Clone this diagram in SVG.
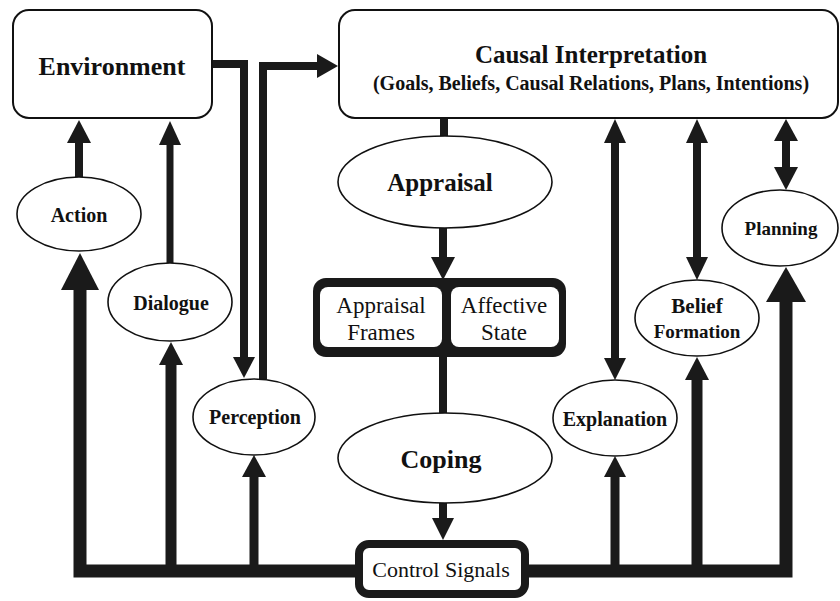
<svg xmlns="http://www.w3.org/2000/svg" width="840" height="601" viewBox="0 0 840 601">
<style>
.box{fill:#fff;stroke:#111;stroke-width:2}
.ell{fill:#fff;stroke:#111;stroke-width:1.6}
.t{font-weight:bold;fill:#111;text-anchor:middle}
.r{font-weight:normal;fill:#111;text-anchor:middle}
.ln{fill:none;stroke:#1a1a1a;stroke-linejoin:miter;stroke-linecap:butt}
.hd{fill:#1a1a1a}
</style>
<rect width="840" height="601" fill="#fff"/>
<g id="connectors">
  <path class="ln" stroke-width="8" d="M212,64 H244 V358"/>
  <polygon class="hd" points="244,378 233,357 255,357"/>
  <path class="ln" stroke-width="8" d="M263,379 V66 H318"/>
  <polygon class="hd" points="338,66 317,54 317,78"/>
  <path class="ln" stroke-width="8" d="M79,177 V142"/>
  <polygon class="hd" points="79,120 67,143 91,143"/>
  <path class="ln" stroke-width="7" d="M170,263 V144"/>
  <polygon class="hd" points="170,121 159,145 181,145"/>
  <path class="ln" stroke-width="8" d="M444,117 V137"/>
  <path class="ln" stroke-width="8" d="M443,228 V258"/>
  <polygon class="hd" points="443,280 431,257 455,257"/>
  <path class="ln" stroke-width="8" d="M443,357 V414"/>
  <path class="ln" stroke-width="8" d="M443,503 V520"/>
  <polygon class="hd" points="443,540 432,518 454,518"/>
  <path class="ln" stroke-width="13" d="M356,571 H80 V289"/>
  <polygon class="hd" points="80,253 61,290 99,290"/>
  <path class="ln" stroke-width="11" d="M171,571 V364"/>
  <polygon class="hd" points="171,342 159,365 183,365"/>
  <path class="ln" stroke-width="9" d="M254,571 V476"/>
  <polygon class="hd" points="254,455 242,477 266,477"/>
  <path class="ln" stroke-width="13" d="M528,571 H786 V301"/>
  <polygon class="hd" points="786,267 766,302 806,302"/>
  <path class="ln" stroke-width="9" d="M615,571 V476"/>
  <polygon class="hd" points="615,456 604,477 626,477"/>
  <path class="ln" stroke-width="11" d="M697,571 V379"/>
  <polygon class="hd" points="697,357 685,380 709,380"/>
  <path class="ln" stroke-width="8" d="M615,142 V359"/>
  <polygon class="hd" points="615,119 604,143 626,143"/>
  <polygon class="hd" points="615,380 604,358 626,358"/>
  <path class="ln" stroke-width="8" d="M697,142 V258"/>
  <polygon class="hd" points="697,119 686,143 708,143"/>
  <polygon class="hd" points="697,280 686,257 708,257"/>
  <path class="ln" stroke-width="8" d="M786,140 V168"/>
  <polygon class="hd" points="786,119 774,141 798,141"/>
  <polygon class="hd" points="786,190 774,167 798,167"/>
</g>
<g font-family="Liberation Serif, Times New Roman, serif">
<g id="environment">
  <rect class="box" x="13" y="10" width="199" height="108" rx="16"/>
  <text class="t" x="112" y="75" font-size="26">Environment</text>
</g>
<g id="causal-interpretation">
  <rect class="box" x="339" y="10" width="499" height="108" rx="16"/>
  <text class="t" x="591" y="63" font-size="25">Causal Interpretation</text>
  <text class="t" x="591" y="90" font-size="20">(Goals, Beliefs, Causal Relations, Plans, Intentions)</text>
</g>
<g id="action">
  <ellipse class="ell" cx="79" cy="214" rx="62" ry="37"/>
  <text class="t" x="79" y="222" font-size="20">Action</text>
</g>
<g id="dialogue">
  <ellipse class="ell" cx="170" cy="302" rx="62" ry="39"/>
  <text class="t" x="171" y="310" font-size="20">Dialogue</text>
</g>
<g id="perception">
  <ellipse class="ell" cx="254" cy="417" rx="61" ry="38"/>
  <text class="t" x="255" y="424" font-size="20">Perception</text>
</g>
<g id="appraisal">
  <ellipse class="ell" cx="445" cy="182" rx="107" ry="46"/>
  <text class="t" x="440" y="191" font-size="25">Appraisal</text>
</g>
<g id="appraisal-frames-affective-state">
  <rect x="313" y="278" width="253" height="79" rx="13" fill="#1a1a1a"/>
  <rect x="320" y="287" width="122" height="60" rx="8" fill="#fff"/>
  <rect x="451" y="287" width="108" height="60" rx="8" fill="#fff"/>
  <text class="r" x="381" y="313" font-size="23">Appraisal</text>
  <text class="r" x="381" y="340" font-size="23">Frames</text>
  <text class="r" x="504" y="313" font-size="23">Affective</text>
  <text class="r" x="504" y="340" font-size="23">State</text>
</g>
<g id="coping">
  <ellipse class="ell" cx="445" cy="458" rx="107" ry="45"/>
  <text class="t" x="441" y="468" font-size="26">Coping</text>
</g>
<g id="control-signals">
  <rect x="359" y="544" width="166" height="50" rx="10" fill="#fff" stroke="#1a1a1a" stroke-width="8"/>
  <text class="r" x="441" y="577" font-size="22">Control Signals</text>
</g>
<g id="explanation">
  <ellipse class="ell" cx="615" cy="418" rx="62" ry="38"/>
  <text class="t" x="615" y="426" font-size="20">Explanation</text>
</g>
<g id="belief-formation">
  <ellipse class="ell" cx="697" cy="318" rx="62" ry="38"/>
  <text class="t" x="697" y="313" font-size="21">Belief</text>
  <text class="t" x="697" y="338" font-size="19">Formation</text>
</g>
<g id="planning">
  <ellipse class="ell" cx="780" cy="228" rx="58" ry="38"/>
  <text class="t" x="781" y="235" font-size="19">Planning</text>
</g>
</g>
</svg>
